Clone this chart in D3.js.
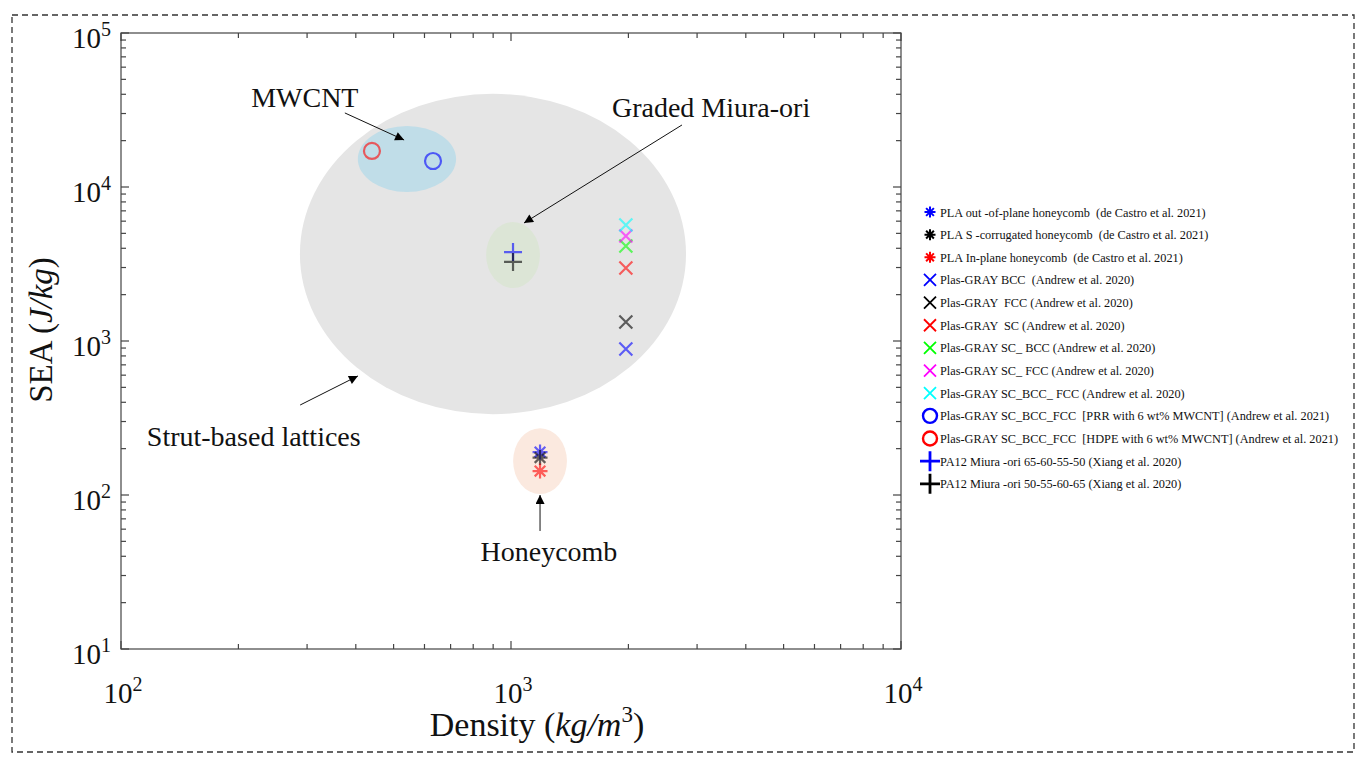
<!DOCTYPE html>
<html><head><meta charset="utf-8">
<script src="https://cdn.jsdelivr.net/npm/d3@7"></script>
<style>body{margin:0;background:#fff;} text{font-family:"Liberation Serif","Times New Roman",serif;}</style>
</head><body><svg id="c" width="1366" height="766"></svg>
<script>
// ---- data ----
const seriesNames = [
 "PLA out -of-plane honeycomb  (de Castro et al. 2021)",
 "PLA S -corrugated honeycomb  (de Castro et al. 2021)",
 "PLA In-plane honeycomb  (de Castro et al. 2021)",
 "Plas-GRAY BCC  (Andrew et al. 2020)",
 "Plas-GRAY  FCC (Andrew et al. 2020)",
 "Plas-GRAY  SC (Andrew et al. 2020)",
 "Plas-GRAY SC_ BCC (Andrew et al. 2020)",
 "Plas-GRAY SC_ FCC (Andrew et al. 2020)",
 "Plas-GRAY SC_BCC_ FCC (Andrew et al. 2020)",
 "Plas-GRAY SC_BCC_FCC  [PRR with 6 wt% MWCNT] (Andrew et al. 2021)",
 "Plas-GRAY SC_BCC_FCC  [HDPE with 6 wt% MWCNT] (Andrew et al. 2021)",
 "PA12 Miura -ori 65-60-55-50 (Xiang et al. 2020)",
 "PA12 Miura -ori 50-55-60-65 (Xiang et al. 2020)"
];
const seriesColors = ["#0000ff","#000000","#ff0000","#0000ff","#000000","#ff0000","#00ff00","#ff00ff","#00ffff","#0000ff","#ff0000","#0000ff","#000000"];
const seriesSymbols = ["asterisk","asterisk","asterisk","cross","cross","cross","cross","cross","cross","circle","circle","plus","plus"];
const densities = [1187, 1187, 1187, 1970, 1970, 1970, 1970, 1970, 1970, 631, 440, 1012, 1012];
const seaValues = [190, 175, 143, 887, 1330, 2980, 4140, 4800, 5660, 14750, 17140, 3780, 3260];

// regions: centre (density, SEA), half extents in decades
const regionCenterX = [899, 541, 1012, 1187];
const regionCenterY = [3672, 15200, 3615, 166];
const regionHalfDecX = [0.495, 0.126, 0.069, 0.069];
const regionHalfDecY = [1.04, 0.214, 0.214, 0.214];
const regionColors = ["#e5e5e5", "#c0dde8", "#dce5d6", "#fbe9df"];

// annotations
const annText = ["MWCNT", "Graded Miura-ori", "Strut-based lattices", "Honeycomb"];
const annTextX = [296, 3258, 219, 1251];
const annTextY = [33050, 28500, 208, 37.3];
const annFromX = [375, 2744, 288, 1187];
const annFromY = [30260, 25280, 384, 58.4];
const annToX = [532, 1080, 405, 1187];
const annToY = [20190, 5840, 593, 100];

const xDomain = [100, 10000];
const yDomain = [10, 100000];
const xTickExp = [2, 3, 4];
const yTickExp = [1, 2, 3, 4, 5];

// ---- layout ----
const svg = d3.select("#c");
const L = 121, R = 901, T = 33, B = 649;
const x = d3.scaleLog().domain(xDomain).range([L, R]);
const y = d3.scaleLog().domain(yDomain).range([B, T]);

svg.append("rect").attr("x", 12).attr("y", 15).attr("width", 1342).attr("height", 737)
  .attr("fill", "none").attr("stroke", "#333").attr("stroke-width", 1.3).attr("stroke-dasharray", "6,4");

svg.append("defs").append("marker").attr("id", "ah").attr("viewBox", "0 0 10 10")
  .attr("refX", 10).attr("refY", 5).attr("markerWidth", 12).attr("markerHeight", 9)
  .attr("markerUnits", "userSpaceOnUse").attr("orient", "auto")
  .append("path").attr("d", "M0,0L10,5L0,10Z").attr("fill", "#000");

// regions
const g = svg.append("g");
regionCenterX.forEach((cx, i) => {
  const px = x(cx), py = y(regionCenterY[i]);
  const rx = x(cx * Math.pow(10, regionHalfDecX[i])) - px;
  const ry = py - y(regionCenterY[i] * Math.pow(10, regionHalfDecY[i]));
  g.append("ellipse").attr("cx", px).attr("cy", py).attr("rx", rx).attr("ry", ry).attr("fill", regionColors[i]);
});

// symbol drawer
function drawSymbol(sel, type, color, s, sw, op) {
  const gg = sel.append("g").attr("stroke", color).attr("fill", "none").attr("stroke-width", sw).attr("opacity", op);
  if (type === "circle") {
    gg.append("circle").attr("r", s);
  } else if (type === "cross") {
    gg.append("path").attr("d", `M${-s},${-s}L${s},${s}M${-s},${s}L${s},${-s}`);
  } else if (type === "plus") {
    gg.append("path").attr("d", `M${-s},0L${s},0M0,${-s}L0,${s}`);
  } else if (type === "asterisk") {
    const a = s * 0.707;
    gg.append("path").attr("d", `M${-s},0L${s},0M0,${-s}L0,${s}M${-a},${-a}L${a},${a}M${-a},${a}L${a},${-a}`);
  }
  return gg;
}
const plotSize = {circle: 8, cross: 6.5, plus: 9, asterisk: 7.5};
const plotWidth = {circle: 2.2, cross: 2.2, plus: 2.2, asterisk: 2.2};

const pts = svg.append("g");
densities.forEach((d, i) => {
  drawSymbol(pts, seriesSymbols[i], seriesColors[i], plotSize[seriesSymbols[i]], plotWidth[seriesSymbols[i]], 0.6)
    .attr("transform", `translate(${x(d)},${y(seaValues[i])})`);
});

// axes box
const axColor = "#444";
svg.append("rect").attr("x", L).attr("y", T).attr("width", R - L).attr("height", B - T)
  .attr("fill", "none").attr("stroke", axColor).attr("stroke-width", 1.2);

function logTicks(lo, hi) {
  const out = [];
  for (let e = lo; e < hi; e++) for (let m = 1; m <= 9; m++) out.push({v: m * Math.pow(10, e), major: m === 1});
  out.push({v: Math.pow(10, hi), major: true});
  return out;
}
const tk = svg.append("g").attr("stroke", axColor).attr("stroke-width", 1.2);
logTicks(2, 4).forEach(t => {
  const px = x(t.v), len = t.major ? 8 : 5;
  tk.append("line").attr("x1", px).attr("x2", px).attr("y1", B).attr("y2", B - len);
  tk.append("line").attr("x1", px).attr("x2", px).attr("y1", T).attr("y2", T + len);
});
logTicks(1, 5).forEach(t => {
  const py = y(t.v), len = t.major ? 8 : 5;
  tk.append("line").attr("y1", py).attr("y2", py).attr("x1", L).attr("x2", L + len);
  tk.append("line").attr("y1", py).attr("y2", py).attr("x1", R).attr("x2", R - len);
});

// tick labels
xTickExp.forEach(e => {
  const t = svg.append("text").attr("x", x(Math.pow(10, e)) + 2).attr("y", B + 54)
    .attr("text-anchor", "middle").attr("font-size", 29).attr("fill", "#111");
  t.append("tspan").text("10");
  t.append("tspan").attr("dy", -12).attr("font-size", 20).text(e);
});
yTickExp.forEach(e => {
  const t = svg.append("text").attr("x", 111).attr("y", y(Math.pow(10, e)) + 15)
    .attr("text-anchor", "end").attr("font-size", 29).attr("fill", "#111");
  t.append("tspan").text("10");
  t.append("tspan").attr("dy", -12).attr("font-size", 20).text(e);
});

// axis titles
const xt = svg.append("text").attr("x", 537).attr("y", 736).attr("text-anchor", "middle").attr("font-size", 34).attr("fill", "#111");
xt.append("tspan").text("Density (");
xt.append("tspan").attr("font-style", "italic").text("kg/m");
xt.append("tspan").attr("dy", -14).attr("font-size", 23).text("3");
xt.append("tspan").attr("dy", 14).text(")");

const yt = svg.append("text").attr("transform", "translate(52,330) rotate(-90)").attr("text-anchor", "middle").attr("font-size", 33).attr("fill", "#111");
yt.append("tspan").text("SEA (");
yt.append("tspan").attr("font-style", "italic").text("J/kg");
yt.append("tspan").text(")");

// annotations
annText.forEach((s, i) => {
  svg.append("text").attr("x", x(annTextX[i])).attr("y", y(annTextY[i])).attr("text-anchor", "middle")
    .attr("font-size", 28).attr("fill", "#111").text(s);
  svg.append("line").attr("x1", x(annFromX[i])).attr("y1", y(annFromY[i]))
    .attr("x2", x(annToX[i])).attr("y2", y(annToY[i])).attr("stroke", "#111").attr("stroke-width", 1)
    .attr("marker-end", "url(#ah)");
});

// legend
const legSize = {circle: 7, cross: 6, plus: 10, asterisk: 5.5};
const legWidth = {circle: 2.4, cross: 1.8, plus: 2.8, asterisk: 2};
seriesNames.forEach((nm, i) => {
  const ly = 212 + i * 22.65;
  drawSymbol(svg, seriesSymbols[i], seriesColors[i], legSize[seriesSymbols[i]], legWidth[seriesSymbols[i]], 1)
    .attr("transform", `translate(930,${ly})`);
  svg.append("text").attr("x", 940).attr("y", ly + 4.5).attr("font-size", 12.3).attr("fill", "#111")
    .style("white-space", "pre").attr("xml:space", "preserve").text(nm);
});
</script></body></html>
